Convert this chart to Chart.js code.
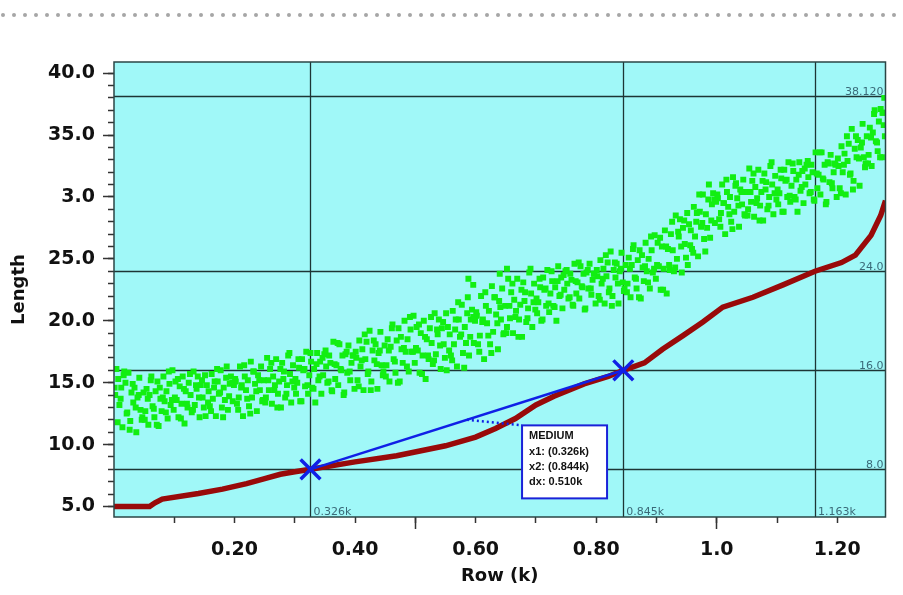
<!DOCTYPE html>
<html lang="en">
<head>
<meta charset="UTF-8">
<title>Length by Row</title>
<script src="https://cdn.jsdelivr.net/npm/chart.js"></script>
<style>
  body { margin: 0; background: #fff; }
  #wrap { width: 903px; height: 595px; position: relative; }
</style>
</head>
<body>
<div id="wrap"><canvas id="lengthChart"></canvas></div>
<script>
// green samples: [row, length]
const greenPoints = [
  [2,14.0],[4,16.1],[7,15.3],[9,13.2],[12,14.6],[14,11.4],[17,15.9],[19,15.0],[22,12.6],[24,15.8],[27,11.9],[29,14.2],[32,13.4],[34,14.6],[37,11.0],[39,13.8],[42,15.4],[44,12.8],[47,12.2],[49,14.2],
  [52,12.7],[54,14.5],[57,11.6],[59,14.0],[62,15.5],[64,13.1],[67,12.2],[69,14.3],[72,15.1],[74,11.5],[77,13.7],[79,12.7],[82,15.5],[84,13.5],[87,14.3],[89,12.1],[92,14.9],[94,13.2],[97,16.0],[99,12.8],
  [102,15.1],[104,13.6],[107,12.2],[109,14.7],[112,13.3],[114,15.5],[117,11.7],[119,14.3],[122,13.0],[124,15.0],[127,14.0],[129,12.6],[132,15.9],[134,13.2],[137,14.5],[139,15.5],[142,12.2],[144,14.8],[147,13.8],[149,13.0],
  [152,12.3],[154,14.8],[157,14.3],[159,13.1],[162,15.7],[164,13.7],[167,15.1],[169,12.3],[172,15.1],[174,14.1],[177,16.0],[179,13.0],[182,14.6],[184,13.6],[187,16.3],[189,12.8],[192,14.9],[194,15.5],[197,13.5],[199,14.8],
  [202,15.1],[204,13.3],[207,13.8],[209,16.3],[212,14.8],[214,12.3],[217,15.5],[219,14.4],[222,15.2],[224,13.1],[227,16.7],[229,13.8],[232,15.9],[234,14.9],[237,12.7],[239,15.6],[242,14.4],[244,16.3],[247,13.6],[249,15.2],
  [252,13.8],[254,17.0],[257,14.4],[259,16.1],[262,13.3],[264,15.5],[267,14.8],[269,16.9],[272,14.1],[274,15.1],[277,13.0],[279,16.6],[282,15.9],[284,13.8],[287,14.8],[289,17.2],[292,15.7],[294,13.4],[297,16.4],[299,14.6],
  [302,14.1],[304,15.0],[307,16.2],[309,13.5],[312,16.9],[314,16.0],[317,14.7],[319,17.5],[322,14.1],[324,15.6],[327,16.7],[329,14.6],[332,16.1],[334,13.4],[337,17.4],[339,15.2],[342,16.7],[344,14.1],[347,15.6],[349,17.3],
  [352,16.3],[354,15.0],[357,17.2],[359,16.6],[362,14.3],[364,18.3],[367,15.3],[369,16.4],[372,14.8],[374,18.1],[377,16.0],[379,17.2],[382,14.2],[384,17.3],[387,15.8],[389,18.0],[392,15.2],[394,16.6],[397,17.2],[399,14.5],
  [402,17.0],[404,15.2],[407,18.4],[409,16.3],[412,17.7],[414,14.4],[417,16.9],[419,18.3],[422,15.9],[424,19.2],[427,15.1],[429,17.6],[432,16.8],[434,18.1],[437,14.5],[439,17.4],[442,19.1],[444,16.4],[447,15.9],[449,18.0],
  [452,16.4],[454,18.5],[457,15.1],[459,17.9],[462,19.7],[464,16.9],[467,15.8],[469,18.4],[472,19.4],[474,15.1],[477,17.7],[479,16.6],[482,20.0],[484,17.5],[487,18.5],[489,15.9],[492,19.3],[494,17.5],[497,20.4],[499,16.6],
  [502,19.5],[504,17.6],[507,15.8],[509,19.0],[512,17.2],[514,20.0],[517,15.3],[519,18.5],[522,16.9],[524,19.4],[527,18.2],[529,16.5],[532,20.6],[534,17.3],[537,18.9],[539,20.1],[542,16.1],[544,19.4],[547,18.1],[549,17.0],
  [552,16.0],[554,19.5],[557,18.9],[559,17.2],[562,20.8],[564,18.1],[567,20.1],[569,16.3],[572,20.1],[574,18.7],[577,21.3],[579,17.4],[582,19.5],[584,18.2],[587,21.9],[589,17.2],[592,20.1],[594,20.9],[597,18.2],[599,20.0],
  [602,20.4],[604,18.1],[607,18.8],[609,22.0],[612,20.1],[614,16.9],[617,21.2],[619,19.8],[622,20.8],[624,18.1],[627,22.8],[629,19.1],[632,21.9],[634,20.5],[637,17.7],[639,21.6],[642,20.1],[644,22.6],[647,19.0],[649,21.2],
  [652,19.5],[654,23.4],[657,20.2],[659,22.3],[662,19.0],[664,21.7],[667,20.8],[669,23.4],[672,20.1],[674,21.3],[677,18.7],[679,23.1],[682,22.3],[684,19.9],[687,21.0],[689,23.9],[692,22.2],[694,19.5],[697,23.0],[699,20.9],
  [702,20.6],[704,21.5],[707,22.7],[709,20.0],[712,23.5],[714,22.5],[717,21.2],[719,24.1],[722,20.7],[724,22.2],[727,23.2],[729,21.2],[732,22.7],[734,20.0],[737,24.4],[739,22.0],[742,23.5],[744,21.0],[747,22.5],[749,24.0],
  [752,23.0],[754,21.8],[757,23.8],[759,23.3],[762,21.2],[764,24.6],[767,22.2],[769,23.1],[772,21.8],[774,24.4],[777,22.7],[779,23.8],[782,21.0],[784,23.9],[787,22.6],[789,24.6],[792,22.1],[794,23.3],[797,23.8],[799,21.4],
  [802,23.6],[804,22.0],[807,24.9],[809,23.0],[812,24.2],[814,21.4],[817,23.6],[819,24.7],[822,22.6],[824,25.6],[827,22.0],[829,24.1],[832,23.5],[834,24.6],[837,21.4],[839,24.0],[842,25.5],[844,23.1],[847,22.6],[849,24.5],
  [852,23.0],[854,25.1],[857,21.9],[859,24.5],[862,26.1],[864,23.5],[867,22.6],[869,24.9],[872,25.7],[874,21.8],[877,24.3],[879,23.2],[882,26.3],[884,24.0],[887,25.0],[889,22.6],[892,25.7],[894,23.9],[897,26.9],[899,23.4],
  [902,26.3],[904,24.4],[907,22.5],[909,26.0],[912,24.2],[914,27.3],[917,22.2],[919,25.8],[922,24.1],[924,27.0],[927,25.7],[929,24.0],[932,28.5],[934,25.0],[937,26.8],[939,28.2],[942,23.9],[944,27.5],[947,26.2],[949,25.1],
  [952,24.5],[954,27.8],[957,27.3],[959,25.8],[962,29.2],[964,26.8],[967,28.7],[969,25.2],[972,28.8],[974,27.6],[977,30.2],[979,26.6],[982,28.6],[984,27.5],[987,31.0],[989,26.7],[992,29.4],[994,30.3],[997,27.9],[999,29.6],
  [1002,29.9],[1004,28.2],[1007,28.7],[1009,31.0],[1012,29.5],[1014,27.0],[1017,30.4],[1019,29.2],[1022,30.0],[1024,28.0],[1027,31.6],[1029,28.8],[1032,31.1],[1034,29.9],[1037,27.6],[1039,30.6],[1042,29.4],[1044,31.4],[1047,28.5],[1049,30.4],
  [1052,29.0],[1054,32.3],[1057,29.6],[1059,31.3],[1062,28.4],[1064,30.8],[1067,29.9],[1069,32.2],[1072,29.3],[1074,30.4],[1077,28.1],[1079,31.9],[1082,31.2],[1084,29.0],[1087,30.0],[1089,32.5],[1092,31.0],[1094,28.6],[1097,31.7],[1099,29.8],
  [1102,29.4],[1104,30.3],[1107,31.5],[1109,28.8],[1112,32.2],[1114,31.3],[1117,30.0],[1119,32.8],[1122,29.6],[1124,30.9],[1127,32.1],[1129,30.0],[1132,31.4],[1134,28.8],[1137,32.8],[1139,30.5],[1142,32.1],[1144,29.5],[1147,31.0],[1149,32.6],
  [1152,31.6],[1154,30.3],[1157,32.6],[1159,32.0],[1162,29.7],[1164,33.6],[1167,30.7],[1169,31.8],[1172,30.2],[1174,33.6],[1177,31.4],[1179,32.6],[1182,29.6],[1184,32.8],[1187,31.2],[1189,33.4],[1192,30.7],[1194,32.0],[1197,32.6],[1199,30.0],
  [1202,32.5],[1204,30.7],[1207,34.1],[1209,32.0],[1212,33.5],[1214,30.2],[1217,32.9],[1219,34.3],[1222,31.9],[1224,35.5],[1227,31.3],[1229,33.9],[1232,33.2],[1234,34.6],[1237,30.9],[1239,34.0],[1242,35.9],[1244,33.2],[1247,32.7],[1249,34.9],
  [1252,33.4],[1254,35.6],[1257,32.5],[1259,35.2],[1262,37.0],[1264,34.5],[1267,33.7],[1269,36.1],[1272,37.1],[1274,33.2],[1276,36.8],[1277,35.8],[1278,38.0],[1279,34.9],
  [588,23.4],[596,22.9],[640,23.8],[652,24.2],
  [1,14.6],[6,11.8],[11,13.7],[16,15.6],[21,12.5],[26,11.2],[31,14.9],[36,13.0],[41,14.0],[46,12.0],
  [51,12.0],[56,13.7],[61,15.2],[66,12.9],[71,11.6],[76,14.6],[81,13.8],[86,12.6],[91,15.9],[96,13.6],
  [101,13.8],[106,15.3],[111,12.1],[116,14.5],[121,13.3],[126,15.7],[131,12.8],[136,14.8],[141,13.8],[146,15.2],
  [151,15.6],[156,13.4],[161,12.7],[166,14.6],[171,16.1],[176,14.2],[181,12.2],[186,15.4],[191,13.9],[196,15.0],
  [201,15.3],[206,12.8],[211,14.6],[216,16.4],[221,13.7],[226,12.5],[231,15.9],[236,14.3],[241,15.2],[246,13.5],
  [251,13.4],[256,15.2],[261,16.6],[266,14.4],[271,13.0],[276,16.1],[281,15.3],[286,14.1],[291,17.4],[296,15.1],
  [301,15.3],[306,16.9],[311,13.5],[316,16.1],[321,14.8],[326,17.4],[331,14.5],[336,16.5],[341,15.5],[346,17.0],
  [351,17.6],[356,15.1],[361,14.4],[366,16.5],[371,18.2],[376,16.1],[381,14.0],[386,17.5],[391,15.9],[396,17.2],
  [401,17.5],[406,14.7],[411,16.8],[416,18.9],[421,15.7],[426,14.4],[431,18.4],[436,16.5],[441,17.6],[446,15.6],
  [451,15.5],[456,17.6],[461,19.4],[466,16.7],[471,15.0],[476,18.7],[481,17.8],[486,16.3],[491,20.3],[496,17.5],
  [501,17.8],[506,19.7],[511,15.7],[516,18.7],[521,17.2],[526,20.3],[531,16.8],[536,19.3],[541,18.0],[546,19.9],
  [551,20.6],[556,17.6],[561,16.8],[566,19.3],[571,21.5],[576,18.9],[581,16.2],[586,20.6],[591,18.7],[596,20.3],
  [601,20.7],[606,17.5],[611,19.9],[616,22.3],[621,18.8],[626,17.4],[631,21.9],[636,19.8],[641,21.1],[646,18.9],
  [651,19.0],[656,21.2],[661,23.0],[666,20.3],[671,18.7],[676,22.5],[681,21.6],[686,20.2],[691,24.2],[696,21.5],
  [701,21.8],[706,23.4],[711,20.1],[716,22.6],[721,21.4],[726,24.0],[731,21.1],[736,23.2],[741,22.1],[746,23.7],
  [751,24.1],[756,21.9],[761,21.3],[766,23.2],[771,24.7],[776,22.8],[781,20.9],[786,24.1],[791,22.6],[796,23.8],
  [801,24.1],[806,21.7],[811,23.4],[816,25.3],[821,22.3],[826,21.2],[831,24.7],[836,23.0],[841,24.2],[846,22.4],
  [851,22.3],[856,24.2],[861,25.8],[866,23.4],[871,21.9],[876,25.3],[881,24.4],[886,23.1],[891,26.8],[896,24.2],
  [901,24.5],[906,26.7],[911,22.5],[916,26.0],[921,24.5],[926,28.0],[931,24.3],[936,27.2],[941,26.0],[946,28.1],
  [951,28.7],[956,26.1],[961,25.5],[966,28.0],[971,30.2],[976,27.9],[981,25.6],[986,29.8],[991,28.1],[996,29.8],
  [1001,30.2],[1006,27.6],[1011,29.5],[1016,31.4],[1021,28.6],[1026,27.4],[1031,30.9],[1036,29.3],[1041,30.4],[1046,28.6],
  [1051,28.5],[1056,30.4],[1061,31.9],[1066,29.5],[1071,28.1],[1076,31.3],[1081,30.6],[1086,29.3],[1091,32.8],[1096,30.3],
  [1101,30.6],[1106,32.2],[1111,28.8],[1116,31.4],[1121,30.1],[1126,32.7],[1131,29.8],[1136,31.8],[1141,30.8],[1146,32.3],
  [1151,32.9],[1156,30.4],[1161,29.8],[1166,31.9],[1171,33.6],[1176,31.5],[1181,29.4],[1186,32.7],[1191,31.1],[1196,32.7],
  [1201,33.1],[1206,30.3],[1211,32.6],[1216,34.9],[1221,31.8],[1226,30.6],[1231,34.9],[1236,33.1],[1241,34.4],[1246,32.4],
  [1251,32.7],[1256,34.8],[1261,36.7],[1266,34.4],[1271,33.2],[1275,36.8]
];

// red trend (row in k, length)
const redRows    = [0.000, 0.059, 0.068, 0.080, 0.140, 0.180, 0.220, 0.250, 0.276, 0.300, 0.326, 0.400, 0.469, 0.550, 0.600, 0.633, 0.666, 0.700, 0.730, 0.780, 0.820, 0.845, 0.880, 0.910, 0.944, 0.977, 1.010, 1.060, 1.110, 1.163, 1.207, 1.230, 1.256, 1.272, 1.280];
const redLengths = [5.0, 5.0, 5.3, 5.6, 6.05, 6.4, 6.85, 7.25, 7.6, 7.8, 8.0, 8.6, 9.1, 9.9, 10.6, 11.3, 12.1, 13.2, 13.9, 14.9, 15.5, 16.0, 16.6, 17.7, 18.8, 19.9, 21.1, 21.9, 22.9, 24.0, 24.7, 25.3, 26.9, 28.5, 29.7];

// cursors and measurement
const cursorRows = [0.326, 0.845, 1.163];
const cursorLabels = ['0.326k', '0.845k', '1.163k'];
const levelValues = [38.12, 24.0, 16.0, 8.0];
const levelLabels = ['38.120', '24.0', '16.0', '8.0'];
const measureRows = [0.326, 0.845];
const measureLengths = [8.0, 16.0];
const measureText = ['MEDIUM', 'x1: (0.326k)', 'x2: (0.844k)', 'dx: 0.510k'];
const measureBoxAt = [0.677, 11.55];

// axes
const xTickValues = [0.2, 0.4, 0.6, 0.8, 1.0, 1.2];
const xTickLabels = ['0.20', '0.40', '0.60', '0.80', '1.0', '1.20'];
const xLongTicks = [0.5, 1.0];
const xMinorTicks = [0.1, 0.2, 0.3, 0.4, 0.5, 0.6, 0.7, 0.8, 0.9, 1.0, 1.1, 1.2];
const yTickValues = [5, 10, 15, 20, 25, 30, 35, 40];
const yTickLabels = ['5.0', '10.0', '15.0', '20.0', '25.0', '3.0', '35.0', '40.0'];
const yMinorTicks = [];
for (let v = 5; v <= 40; v++) yMinorTicks.push(v);

const X_MIN = 0, X_MAX = 1.28, Y_MIN = 4.15, Y_MAX = 40.9;
const TICK_COLOR = '#333';
const LINE_COLOR = '#1d3535';
const LABEL_COLOR = '#3a6a78';

const setTicks = values => scale => { scale.ticks = values.map(v => ({ value: v })); };

const xMainTicks = xTickValues.concat(xLongTicks.filter(v => !xTickValues.includes(v))).sort((a, b) => a - b);
const midRow = (measureRows[0] + measureRows[1]) / 2;
const midLen = (measureLengths[0] + measureLengths[1]) / 2;

const decor = {
    id: 'decor',
    beforeDraw(chart) {
        const ctx = chart.ctx, a = chart.chartArea;
        ctx.save();
        ctx.fillStyle = '#a0f8f8';
        ctx.fillRect(a.left, a.top, a.right - a.left, a.bottom - a.top);
        // dotted rule across the top
        ctx.fillStyle = '#a6a6a6';
        for (let px = 3; px < chart.width; px += 11) {
            ctx.beginPath();
            ctx.arc(px, 15, 2, 0, Math.PI * 2);
            ctx.fill();
        }
        ctx.restore();
    },
    beforeDatasetsDraw(chart) {
        const ctx = chart.ctx, a = chart.chartArea, xs = chart.scales.x, ys = chart.scales.y;
        ctx.save();
        ctx.strokeStyle = LINE_COLOR;
        ctx.lineWidth = 1.3;
        levelValues.forEach(v => {
            const py = Math.round(ys.getPixelForValue(v)) + 0.5;
            ctx.beginPath(); ctx.moveTo(a.left, py); ctx.lineTo(a.right, py); ctx.stroke();
        });
        cursorRows.forEach(v => {
            const px = Math.round(xs.getPixelForValue(v)) + 0.5;
            ctx.beginPath(); ctx.moveTo(px, a.top); ctx.lineTo(px, a.bottom); ctx.stroke();
        });
        ctx.restore();
    },
    afterDatasetsDraw(chart) {
        const ctx = chart.ctx, a = chart.chartArea, xs = chart.scales.x, ys = chart.scales.y;
        ctx.save();
        // frame
        ctx.strokeStyle = '#2b4545';
        ctx.lineWidth = 1.5;
        ctx.strokeRect(a.left, a.top, a.right - a.left, a.bottom - a.top);

        // cursor and level labels
        ctx.font = '11px "DejaVu Sans"';
        ctx.fillStyle = LABEL_COLOR;
        ctx.textBaseline = 'alphabetic';
        ctx.textAlign = 'left';
        cursorRows.forEach((v, i) => {
            ctx.fillText(cursorLabels[i], xs.getPixelForValue(v) + 3, a.bottom - 2);
        });
        ctx.textAlign = 'right';
        levelValues.forEach((v, i) => {
            ctx.fillText(levelLabels[i], a.right - 2, ys.getPixelForValue(v) - 1);
        });

        // measurement box
        const bx = xs.getPixelForValue(measureBoxAt[0]);
        const by = ys.getPixelForValue(measureBoxAt[1]);
        const bw = 85, bh = 73;
        ctx.fillStyle = '#fff';
        ctx.fillRect(bx, by, bw, bh);
        ctx.strokeStyle = '#1a22d8';
        ctx.lineWidth = 2;
        ctx.strokeRect(bx, by, bw, bh);
        ctx.fillStyle = '#111';
        ctx.textAlign = 'left';
        ctx.font = 'bold 11px "Liberation Sans"';
        measureText.forEach((t, i) => ctx.fillText(t, bx + 7, by + 14 + i * 15.3));
        ctx.restore();
    }
};

new Chart(document.getElementById('lengthChart'), {
    type: 'scatter',
    data: {
        datasets: [
            {
                label: 'measure',
                data: measureRows.map((r, i) => ({ x: r, y: measureLengths[i] })),
                showLine: true,
                borderColor: '#1020e6',
                borderWidth: 2.5,
                pointStyle: 'crossRot',
                pointRadius: 14,
                pointBorderWidth: 3.5,
                pointBorderColor: '#1020e6',
                order: 0
            },
            {
                label: 'leader',
                data: [{ x: midRow, y: midLen }, { x: measureBoxAt[0], y: measureBoxAt[1] }],
                showLine: true,
                borderColor: '#1020e6',
                borderWidth: 2.5,
                borderDash: [2, 3],
                pointRadius: 0,
                order: 1
            },
            {
                label: 'trend',
                data: redRows.map((r, i) => ({ x: r, y: redLengths[i] })),
                showLine: true,
                borderColor: '#990a0a',
                borderWidth: 5.5,
                pointRadius: 0,
                order: 2
            },
            {
                label: 'samples',
                data: greenPoints.map(p => ({ x: p[0] / 1000, y: p[1] })),
                pointStyle: 'rect',
                pointRadius: 4.2,
                pointBorderWidth: 0,
                backgroundColor: '#12ee12',
                borderColor: '#12ee12',
                order: 3
            }
        ]
    },
    options: {
        responsive: true,
        maintainAspectRatio: false,
        animation: false,
        events: [],
        layout: { padding: { top: 62, right: 8, left: 0, bottom: 0 } },
        plugins: { legend: { display: false }, tooltip: { enabled: false } },
        scales: {
            x: {
                type: 'linear', position: 'bottom', weight: 1,
                min: X_MIN, max: X_MAX,
                afterBuildTicks: setTicks(xMainTicks),
                afterFit: s => { s.height = 78; },
                border: { display: false },
                grid: {
                    drawOnChartArea: false, tickLength: 12, tickWidth: 1.5,
                    tickColor: c => (c.tick && xLongTicks.includes(c.tick.value)) ? TICK_COLOR : 'rgba(0,0,0,0)'
                },
                ticks: {
                    autoSkip: false, maxRotation: 0, padding: 10, color: '#111',
                    font: { family: 'DejaVu Sans', size: 19, weight: 'bold' },
                    callback: v => { const i = xTickValues.indexOf(v); return i >= 0 ? xTickLabels[i] : ''; }
                },
                title: {
                    display: true, text: 'Row (k)', color: '#111',
                    font: { family: 'DejaVu Sans', size: 18, weight: 'bold' },
                    padding: { top: 0, bottom: 8 }
                }
            },
            xMinor: {
                type: 'linear', position: 'bottom', weight: 0,
                min: X_MIN, max: X_MAX,
                afterBuildTicks: setTicks(xMinorTicks),
                afterFit: s => { s.height = 0; },
                border: { display: false },
                grid: { drawOnChartArea: false, tickLength: 6, tickWidth: 1.5, tickColor: TICK_COLOR },
                ticks: { display: false }
            },
            y: {
                type: 'linear', position: 'left', weight: 1,
                min: Y_MIN, max: Y_MAX,
                afterBuildTicks: setTicks(yTickValues),
                afterFit: s => { s.width = 114; },
                border: { display: false },
                grid: { drawOnChartArea: false, tickLength: 11, tickWidth: 1.5, tickColor: TICK_COLOR },
                ticks: {
                    autoSkip: false, padding: 8, color: '#111',
                    font: { family: 'DejaVu Sans', size: 19, weight: 'bold' },
                    callback: v => { const i = yTickValues.indexOf(v); return i >= 0 ? yTickLabels[i] : ''; }
                },
                title: {
                    display: true, text: 'Length', color: '#111',
                    font: { family: 'DejaVu Sans', size: 18, weight: 'bold' },
                    padding: { top: 9, bottom: 0 }
                }
            },
            yMinor: {
                type: 'linear', position: 'left', weight: 0,
                min: Y_MIN, max: Y_MAX,
                afterBuildTicks: setTicks(yMinorTicks),
                afterFit: s => { s.width = 0; },
                border: { display: false },
                grid: { drawOnChartArea: false, tickLength: 6, tickWidth: 1.5, tickColor: TICK_COLOR },
                ticks: { display: false }
            }
        }
    },
    plugins: [decor]
});
</script>
</body>
</html>
